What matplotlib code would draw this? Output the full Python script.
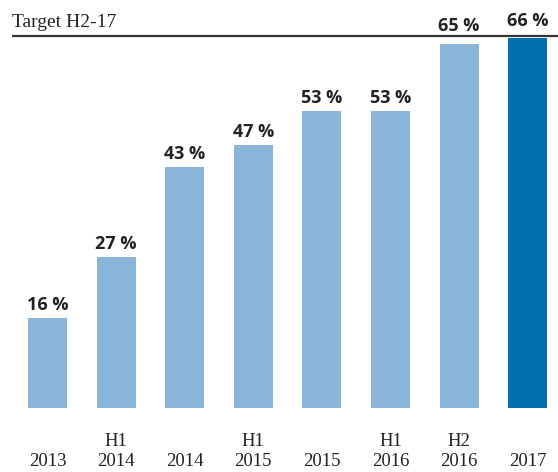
import matplotlib.pyplot as plt

years = ["2013", "2014", "2014", "2015", "2015", "2016", "2016", "2017"]
halves = ["", "H1", "", "H1", "", "H1", "H2", ""]
values = [16, 27, 43, 47, 53, 53, 65, 66]
target_label = "Target H2-17"
target_value = 66

light = "#8ab4d8"
dark = "#0070ae"
colors = [light] * (len(values) - 1) + [dark]

fig = plt.figure(figsize=(5.58, 4.72), dpi=100)
ax = fig.add_axes([0, 0, 1, 1])

# pixel layout: bar centres at 47.5 + 68.6*i, baseline at y=408, 5.6 px per %
px_step = 68.6
x0_px = 47.5
ppu = 5.6
ax.set_xlim(-x0_px / px_step, (558 - x0_px) / px_step)
ax.set_ylim(-(472 - 408) / ppu, 408 / ppu)
ax.axis("off")

xs = list(range(len(values)))
ax.bar(xs, values, width=0.57, color=colors, linewidth=0)

for x, v in zip(xs, values):
    # labels close to the target line are lifted above it
    off = 2.3 if v >= target_value - 2 else 1.45
    ax.text(x, v + off, f"{v} %", ha="center", va="baseline",
            fontsize=13, fontweight="bold", family="Open Sans", color="#222222")

for x, yr, h in zip(xs, years, halves):
    ax.text(x, -58.5 / ppu, yr, ha="center", va="baseline", fontsize=13.5,
            family="Liberation Serif", color="#222222")
    if h:
        ax.text(x, -38 / ppu, h, ha="center", va="baseline", fontsize=13.5,
                family="Liberation Serif", color="#222222")

# target line
left = (12 - x0_px) / px_step
ax.plot([left, 558 / px_step], [target_value + 0.35] * 2,
        color="#333333", linewidth=1.6, solid_capstyle="butt", zorder=0.5, clip_on=False)
ax.text(left, target_value + 2.05, target_label, ha="left", va="baseline",
        fontsize=14, family="Liberation Serif", color="#222222")

fig.savefig("out.png", dpi=100)
